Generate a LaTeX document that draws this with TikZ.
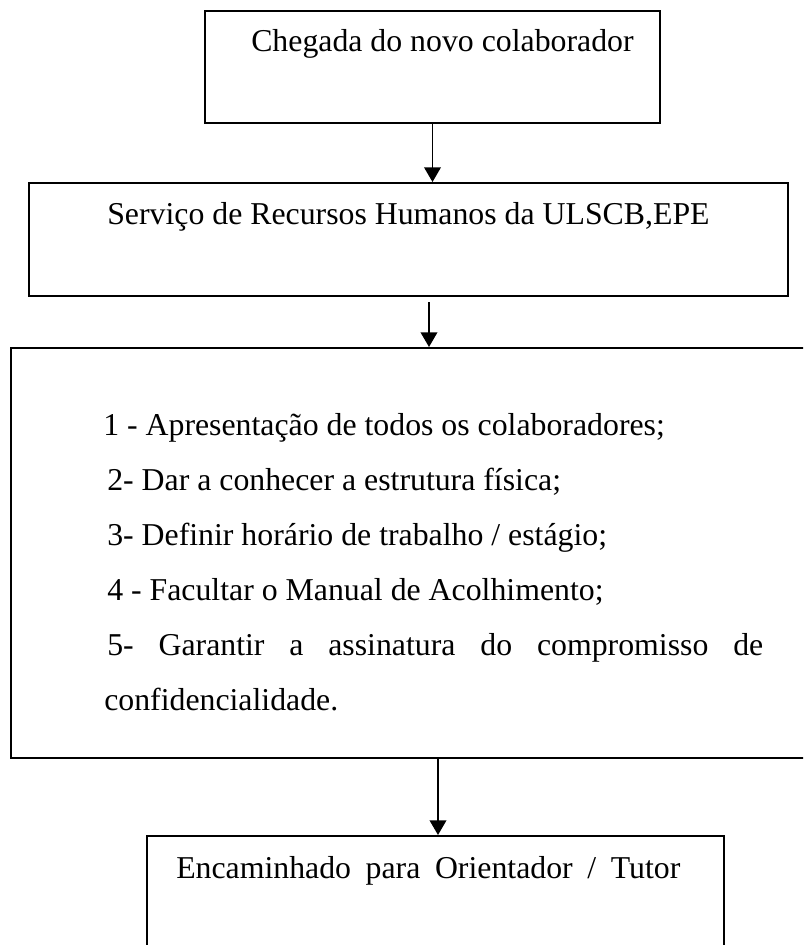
\documentclass[tikz,border=0pt]{standalone}
\usepackage{fontspec}
\setmainfont{Liberation Serif}
\usetikzlibrary{arrows.meta, positioning, fit}

\begin{document}
\begin{tikzpicture}[x=0.75pt, y=-0.75pt,
  caixa/.style={draw=black, line width=1.5pt, inner sep=0pt},
  texto/.style={anchor=base west, inner sep=0pt, font=\fontsize{23.85}{30}\selectfont},
  seta/.style={line width=1.1pt, -{Triangle[width=12.5pt, length=11pt]}}]
  % page is 803x945 px, 1px = 0.75pt, y runs downwards
  \clip (0,0) rectangle (803,945);
  % boxes
  \node[caixa, fit={(205,11) (660,123)}] (chegada) {};
  \node[caixa, fit={(29,183) (788,296)}] (servico) {};
  \node[caixa, fit={(11,348) (830,758)}] (lista) {}; % right side runs off the page
  \node[caixa, fit={(147,836) (724,990)}] (tutor) {}; % bottom runs off the page
  % texts
  \node[texto] (t1) at (251,52) {Chegada do novo colaborador};
  \node[texto] (t2) at (107,224) {Serviço de Recursos Humanos da ULSCB,EPE};
  \node[texto] (l1) at (103,435) {1 - Apresentação de todos os colaboradores;};
  \node[texto] (l2) at (107,490) {2- Dar a conhecer a estrutura física;};
  \node[texto] (l3) at (107,545) {3- Definir horário de trabalho / estágio;};
  \node[texto] (l4) at (107,600) {4 - Facultar o Manual de Acolhimento;};
  \node[texto] (l5) at (107,655) {\makebox[492pt][s]{5- Garantir a assinatura do compromisso de}};
  \node[texto] (l6) at (104,710) {confidencialidade.};
  \node[texto] (t4) at (176,878) {\makebox[378pt][s]{Encaminhado para Orientador / Tutor}};
  % arrows
  \coordinate (a2) at (429,302);
  \coordinate (a3) at (438,758);
  \draw[seta] (chegada.south) -- (chegada.south |- servico.north);
  \draw[seta] (a2) -- (a2 |- lista.north);
  \draw[seta] (a3) -- (a3 |- tutor.north);
\end{tikzpicture}
\end{document}
